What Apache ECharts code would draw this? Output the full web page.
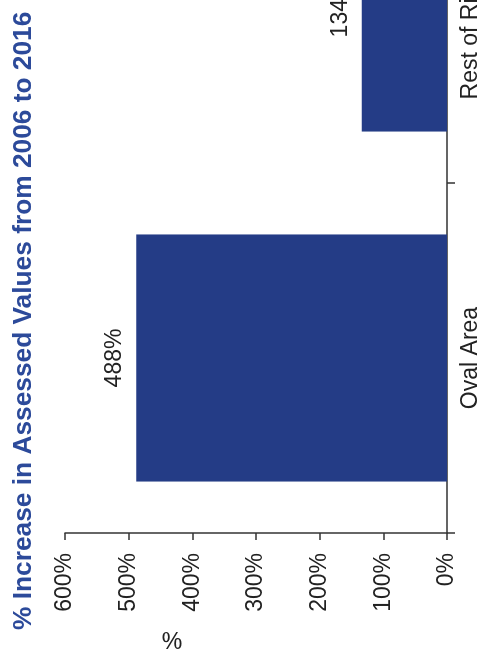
<!DOCTYPE html>
<html><head><meta charset="utf-8">
<script src="https://cdn.jsdelivr.net/npm/echarts@6/dist/echarts.min.js"></script>
<style>
html,body{margin:0;padding:0;background:#fff;overflow:hidden;width:484px;height:663px;position:relative}
#wrap{position:absolute;left:0;top:0;width:830px;height:484px;transform-origin:0 0;transform:translate(0,663px) rotate(-90deg);}
</style></head><body><div id="wrap"></div>
<script>
const categories = ['Oval Area', 'Rest of Richmond'];
const increasePct = [488, 134];
const valueAxisMin = 0, valueAxisMax = 600, valueAxisStep = 100;
const titleText = '% Increase in Assessed Values from 2006 to 2016';
const valueAxisName = '%';

const FONT = '"Liberation Sans", Arial, sans-serif';
const el = document.getElementById('wrap');
const chart = echarts.init(el, null, {renderer: 'canvas', width: 830, height: 484});
const option = {
  animation: false,
  backgroundColor: '#fff',
  grid: {left: 130, top: 65, width: 700, height: 382, containLabel: false},
  xAxis: {
    type: 'category', data: categories,
    axisLine: {lineStyle: {color: '#333', width: 1.5}},
    axisTick: {show: true, length: 8, lineStyle: {color: '#333', width: 1.5}},
    axisLabel: {color: '#222', fontSize: 23, fontFamily: FONT, margin: 12, interval: 0}
  },
  yAxis: {
    type: 'value', min: valueAxisMin, max: valueAxisMax, interval: valueAxisStep,
    axisLine: {show: true, lineStyle: {color: '#333', width: 1.5}},
    axisTick: {show: true, length: 7, lineStyle: {color: '#333', width: 1.5}},
    splitLine: {show: false},
    axisLabel: {formatter: '{value}%', color: '#222', fontSize: 23, fontFamily: FONT, margin: 20}
  },
  series: [{
    type: 'bar', data: increasePct, barWidth: '70.6%',
    itemStyle: {color: '#243c86'},
    label: {show: true, position: 'top', distance: 10, formatter: '{c}%', color: '#222', fontSize: 23, fontFamily: FONT}
  }],
  graphic: [
    {type: 'text', x: 33, y: 24, style: {text: titleText, fill: '#2c4a9a', fontSize: 26.3, fontWeight: 'bold', fontFamily: FONT, align: 'left', textAlign: 'left', verticalAlign: 'middle', textVerticalAlign: 'middle'}},
    {type: 'text', x: 20.5, y: 172, rotation: -Math.PI / 2, style: {text: valueAxisName, fill: '#222', fontSize: 23, fontFamily: FONT, align: 'center', textAlign: 'center', verticalAlign: 'middle', textVerticalAlign: 'middle'}}
  ]
};
chart.setOption(option);
</script></body></html>
